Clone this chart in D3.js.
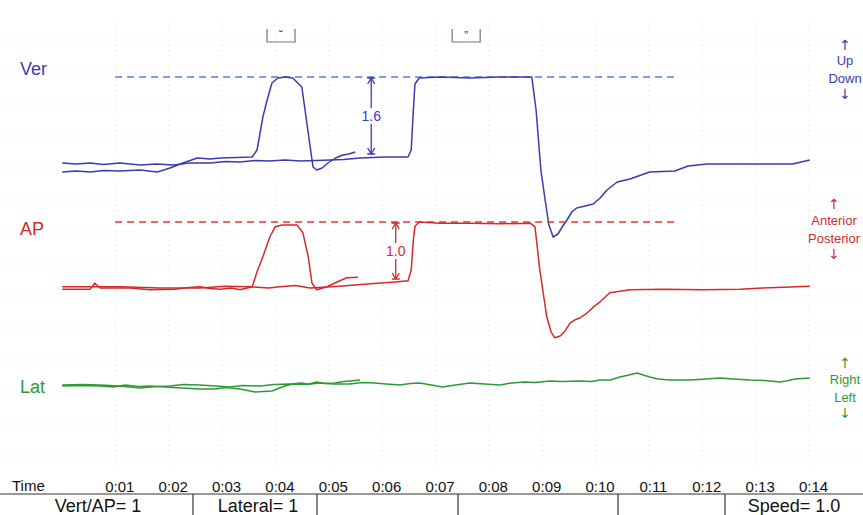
<!DOCTYPE html>
<html>
<head>
<meta charset="utf-8">
<script src="https://cdn.jsdelivr.net/npm/d3@7"></script>
<style>
  body { margin: 0; background: #fff; }
  svg { display: block; font-family: "Liberation Sans", Arial, sans-serif; }
</style>
</head>
<body>
<svg id="my-svg" width="863" height="515"></svg>
<script>
// time ticks (seconds) and their labels
const timeTicks = [1, 2, 3, 4, 5, 6, 7, 8, 9, 10, 11, 12, 13, 14];
const tickLabels = ["0:01", "0:02", "0:03", "0:04", "0:05", "0:06", "0:07",
                    "0:08", "0:09", "0:10", "0:11", "0:12", "0:13", "0:14"];

// [time s, value] - first trial (stops near 0:05)
const verA = [[-0.07,-0.30],[0.2,-0.28],[0.45,-0.3],[0.7,-0.27],[1.01,-0.28],[1.39,-0.26],[1.71,-0.30],[1.95,-0.22],[2.19,-0.12],
  [2.46,-0.02],[2.7,-0.04],[2.89,-0.02],[3.2,-0.01],[3.49,0],[3.58,0.14],[3.69,0.8],[3.77,1.14],[3.86,1.48],[3.97,1.58],[4.12,1.6],
  [4.25,1.58],[4.42,1.4],[4.48,0.94],[4.54,0.48],[4.63,-0.2],[4.70,-0.26],[4.80,-0.22],[4.91,-0.12],
  [5.05,-0.02],[5.19,0.04],[5.3,0.06],[5.42,0.1]];
// second trial, full length
const verB = [[-0.07,-0.12],[0.2,-0.14],[0.45,-0.12],[0.7,-0.15],[1.01,-0.12],[1.39,-0.16],[1.7,-0.14],[2.01,-0.16],[2.32,-0.12],[2.70,-0.12],
  [3.0,-0.09],[3.26,-0.10],[3.55,-0.07],[3.82,-0.08],[4.1,-0.06],[4.39,-0.08],[4.7,-0.07],[4.95,-0.06],[5.2,-0.05],[5.51,-0.02],[5.98,0],[6.41,0],[6.47,0.14],[6.51,0.94],
  [6.54,1.46],[6.62,1.58],[7.01,1.6],[7.57,1.58],[8.13,1.6],[8.73,1.6],[8.81,0.94],[8.90,-0.26],[8.98,-0.86],
  [9.05,-1.36],[9.13,-1.6],[9.22,-1.54],[9.31,-1.38],[9.39,-1.26],[9.48,-1.10],[9.57,-1.02],[9.73,-0.98],
  [9.88,-0.94],[10.01,-0.82],[10.14,-0.66],[10.33,-0.5],[10.57,-0.44],[10.94,-0.3],[11.41,-0.28],[11.66,-0.18],
  [12.01,-0.14],[12.82,-0.14],[13.62,-0.14],[13.94,-0.06]];

const apA = [[-0.07,-0.12],[0.45,-0.12],[0.54,-0.02],[0.64,-0.1],[1.20,-0.1],[1.57,-0.13],[2.04,-0.12],
  [2.3,-0.09],[2.51,-0.08],[2.7,-0.11],[2.89,-0.12],[3.1,-0.1],[3.26,-0.13],[3.49,-0.08],[3.58,0.17],[3.69,0.42],[3.82,0.75],[3.92,0.92],
  [4.05,0.95],[4.33,0.95],[4.44,0.82],[4.54,0.42],[4.61,-0.02],[4.70,-0.13],[4.89,-0.08],[5.08,0],
  [5.26,0.07],[5.47,0.08]];
const apB = [[-0.07,-0.08],[0.45,-0.08],[1.01,-0.08],[1.76,-0.1],[2.51,-0.1],[3.0,-0.07],[3.45,-0.08],[3.8,-0.1],[4.01,-0.08],
  [4.3,-0.06],[4.57,-0.1],[5.13,-0.07],[5.70,-0.03],[6.17,0],[6.41,0.02],[6.47,0.2],[6.51,0.7],[6.54,0.93],[6.62,1.0],
  [7.01,0.98],[7.57,0.98],[8.13,0.97],[8.70,0.98],[8.79,0.92],[8.88,0.2],[9.01,-0.58],[9.09,-0.83],
  [9.16,-0.93],[9.26,-0.9],[9.35,-0.82],[9.45,-0.68],[9.54,-0.63],[9.63,-0.6],[9.76,-0.52],[9.88,-0.42],
  [10.01,-0.33],[10.19,-0.18],[10.57,-0.13],[11.19,-0.12],[11.94,-0.13],[12.63,-0.12],[13.06,-0.1],
  [13.70,-0.08],[13.94,-0.07]];

const latA = [[-0.07,-0.02],[0.3,-0.01],[0.64,-0.02],[0.9,-0.04],[1.11,0],[1.35,-0.03],[1.57,-0.02],[2.0,-0.05],[2.51,-0.08],[2.79,-0.08],[3.0,-0.05],[3.26,-0.08],
  [3.54,-0.14],[3.86,-0.12],[4.1,-0.02],[4.25,0.02],[4.39,0.04],[4.55,0.02],[4.70,0.06],[4.85,0.03],[5.04,0.04],[5.2,0.07],[5.32,0.08],[5.51,0.1]];
const latB = [[-0.07,0],[0.3,0.01],[0.64,0],[1.0,-0.02],[1.39,-0.06],[1.7,-0.03],[1.95,-0.02],[2.2,0.01],[2.51,0],[2.8,-0.02],[3.07,-0.04],[3.3,-0.01],[3.64,-0.02],[3.9,0.01],[4.2,0.02],
  [4.5,0.01],[4.76,0.04],[5.0,0.02],[5.32,0.02],[5.55,0.05],[5.79,0.04],[6.0,0.02],[6.26,0],[6.45,0.03],[6.63,0.04],[6.85,0.0],[7.05,-0.04],[7.3,0.0],[7.57,0.04],[7.85,0.02],[8.13,0],
  [8.35,0.04],[8.60,0.06],[8.8,0.05],[9.07,0.08],[9.3,0.07],[9.63,0.08],[9.85,0.07],[10.01,0.1],[10.2,0.1],[10.38,0.16],[10.55,0.2],[10.70,0.24],[10.82,0.2],[10.94,0.16],[11.1,0.12],[11.32,0.1],[11.69,0.1],
  [12.0,0.12],[12.26,0.14],[12.5,0.12],[12.82,0.1],[13.1,0.09],[13.38,0.06],[13.5,0.08],[13.66,0.12],[13.94,0.14]];

// dashed reference levels: [value, from t, to t]
const verRef = [1.6, 0.92, 11.47];
const apRef = [1.0, 0.92, 11.47];
// measured excursions: [t, from value, to value, label]
const verMeasure = [5.72, 0, 1.6, "1.6"];
const apMeasure = [6.18, 0, 1.0, "1.0"];
// event markers on top: [t, glyph]
const events = [[4.03, "\u02D8"], [7.5, "\u201D"]];

const svg = d3.select('svg');

const xScale = d3.scaleLinear().domain([0, 14]).range([66, 813]);
const yVer = d3.scaleLinear().domain([0, 1.6]).range([157, 77]);
const yAp = d3.scaleLinear().domain([0, 1]).range([282, 222]);
const yLat = d3.scaleLinear().domain([0, 1]).range([385, 335]);

// faint dotted grid
const grid = svg.append('g').attr('stroke', '#e2e2e2').attr('stroke-dasharray', '1,4');
grid.selectAll('line.v').data(timeTicks).enter().append('line')
    .attr('x1', d => xScale(d) - 4).attr('x2', d => xScale(d) - 4)
    .attr('y1', 20).attr('y2', 470);
grid.selectAll('line.h').data(d3.range(40, 470, 32)).enter().append('line')
    .attr('x1', 0).attr('x2', 863)
    .attr('y1', d => d).attr('y2', d => d);

const channels = [
    {name: 'Ver', color: '#3b3bb0', dash: '#4f7fe0', scale: yVer, traces: [verA, verB], labelY: 75,
     ref: verRef, measure: verMeasure, side: ['\u2191', 'Up', 'Down', '\u2193'], sideY: [50, 65, 83, 99], sideX: 845},
    {name: 'AP', color: '#d42a2a', dash: '#ee3030', scale: yAp, traces: [apA, apB], labelY: 235,
     ref: apRef, measure: apMeasure, side: ['\u2191', 'Anterior', 'Posterior', '\u2193'], sideY: [209, 225, 243, 259], sideX: 834},
    {name: 'Lat', color: '#2f9a35', dash: null, scale: yLat, traces: [latA, latB], labelY: 393,
     ref: null, measure: null, side: ['\u2191', 'Right', 'Left', '\u2193'], sideY: [368, 384, 402, 418], sideX: 845}
];

channels.forEach(ch => {
    const line = d3.line()
        .x(d => xScale(d[0]))
        .y(d => ch.scale(d[1]));

    if (ch.ref) {
        svg.append('line')
            .attr('x1', xScale(ch.ref[1])).attr('x2', xScale(ch.ref[2]))
            .attr('y1', ch.scale(ch.ref[0])).attr('y2', ch.scale(ch.ref[0]))
            .attr('stroke', ch.dash).attr('stroke-width', 1.6)
            .attr('stroke-dasharray', '7,5');
    }

    svg.append('g').selectAll('path').data(ch.traces).enter().append('path')
        .attr('d', line)
        .attr('fill', 'none')
        .attr('stroke', ch.color)
        .attr('stroke-width', 1.5)
        .attr('stroke-linejoin', 'round');

    if (ch.measure) {
        const mx = xScale(ch.measure[0]);
        const yTop = ch.scale(ch.measure[2]) + 1;
        const yBot = ch.scale(ch.measure[1]) - 3;
        const m = svg.append('g').attr('stroke', ch.color).attr('stroke-width', 1.3).attr('fill', 'none');
        m.append('line').attr('x1', mx).attr('x2', mx).attr('y1', yTop).attr('y2', yBot);
        m.append('path').attr('d', `M${mx - 4},${yTop} L${mx + 4},${yTop} M${mx - 3.5},${yTop + 6} L${mx},${yTop} L${mx + 3.5},${yTop + 6}`);
        m.append('path').attr('d', `M${mx - 4},${yBot} L${mx + 4},${yBot} M${mx - 3.5},${yBot - 6} L${mx},${yBot} L${mx + 3.5},${yBot - 6}`);
        const ty = (yTop + yBot) / 2;
        svg.append('rect')
            .attr('x', mx - 11).attr('y', ty - 8).attr('width', 22).attr('height', 16)
            .attr('fill', '#fff');
        svg.append('text')
            .attr('x', mx).attr('y', ty + 5)
            .attr('text-anchor', 'middle')
            .attr('font-size', 14)
            .attr('fill', ch.color)
            .text(ch.measure[3]);
    }

    svg.append('text')
        .attr('x', 20).attr('y', ch.labelY)
        .attr('font-size', 18)
        .attr('fill', ch.color)
        .text(ch.name);

    svg.append('g').selectAll('text').data(ch.side).enter().append('text')
        .attr('x', ch.sideX)
        .attr('y', (d, i) => ch.sideY[i])
        .attr('text-anchor', 'middle')
        .attr('font-family', (d, i) => (i === 0 || i === 3) ? '"DejaVu Sans", sans-serif' : null)
        .attr('font-size', (d, i) => (i === 0 || i === 3) ? 14 : 13)
        .attr('fill', ch.color)
        .text(d => d);
});

// event markers
const ev = svg.append('g').selectAll('g').data(events).enter().append('g');
ev.append('path')
    .attr('d', d => `M${xScale(d[0]) - 14},29 L${xScale(d[0]) - 14},42 L${xScale(d[0]) + 14},42 L${xScale(d[0]) + 14},29`)
    .attr('fill', 'none').attr('stroke', '#777').attr('stroke-width', 1.2);
ev.append('text')
    .attr('x', d => xScale(d[0])).attr('y', 40)
    .attr('text-anchor', 'middle').attr('font-size', 12).attr('fill', '#444')
    .text(d => d[1]);

// time axis
const xAxis = d3.axisBottom(xScale)
    .tickValues(timeTicks)
    .tickFormat((d, i) => tickLabels[i])
    .tickSize(0);
const xAxisGroup = svg.append('g').attr('transform', 'translate(0, 478)').call(xAxis);
xAxisGroup.select('.domain').remove();
xAxisGroup.selectAll('text')
    .attr('font-family', '"Liberation Sans", Arial, sans-serif')
    .attr('font-size', 15)
    .attr('fill', '#111');

svg.append('text')
    .attr('x', 12).attr('y', 491)
    .attr('font-size', 15)
    .attr('fill', '#111')
    .text('Time');

// settings table
const dividers = [193, 317, 458, 618, 725];
const cells = [['Vert/AP= 1', 98], ['Lateral= 1', 258], ['Speed= 1.0', 794]];
svg.append('line')
    .attr('x1', 0).attr('x2', 863).attr('y1', 494).attr('y2', 494)
    .attr('stroke', '#333').attr('stroke-width', 1.2);
svg.append('g').selectAll('line').data(dividers).enter().append('line')
    .attr('x1', d => d).attr('x2', d => d).attr('y1', 494).attr('y2', 515)
    .attr('stroke', '#333').attr('stroke-width', 1.2);
svg.append('g').selectAll('text').data(cells).enter().append('text')
    .attr('x', d => d[1]).attr('y', 512)
    .attr('text-anchor', 'middle')
    .attr('font-size', 18)
    .attr('fill', '#111')
    .text(d => d[0]);
</script>
</body>
</html>
